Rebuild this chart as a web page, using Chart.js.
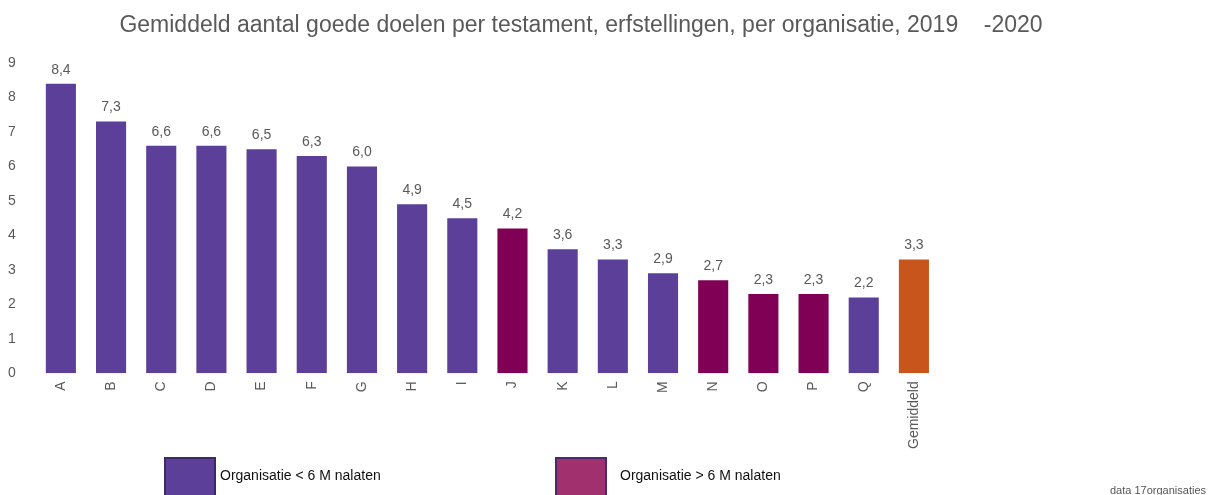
<!DOCTYPE html>
<html>
<head>
<meta charset="utf-8">
<script src="https://cdn.jsdelivr.net/npm/chart.js@4"></script>
<style>
    html, body { margin: 0; padding: 0; background: #fff; }
    #wrap { position: relative; width: 1224px; height: 495px; overflow: hidden; font-family: 'Liberation Sans', Arial, sans-serif; }
    .legend-box { position: absolute; width: 48px; height: 40px; border: 2px solid #3b2a66; }
    .legend-text { position: absolute; font-size: 14px; color: #111; }
    #source { position: absolute; left: 1110px; top: 484px; font-size: 11px; color: #555; }
</style>
</head>
<body>
<div id="wrap">
    <canvas id="goedeDoelenChart" width="1224" height="495"></canvas>
    <div class="legend-box" style="left:164px; top:457px; background:#5b3f99;"></div>
    <div class="legend-text" style="left:220px; top:467px;">Organisatie &lt; 6 M nalaten</div>
    <div class="legend-box" style="left:555px; top:457px; background:#a0306e; border-color:#4b2a6a;"></div>
    <div class="legend-text" style="left:620px; top:467px;">Organisatie &gt; 6 M nalaten</div>
    <div id="source">data 17organisaties</div>
</div>
<script>
const categories = ['A', 'B', 'C', 'D', 'E', 'F', 'G', 'H', 'I', 'J', 'K', 'L', 'M', 'N', 'O', 'P', 'Q', 'Gemiddeld'];
const values = [8.4, 7.3, 6.6, 6.6, 6.5, 6.3, 6.0, 4.9, 4.5, 4.2, 3.6, 3.3, 2.9, 2.7, 2.3, 2.3, 2.2, 3.3];
// groep: 'klein' = < 6 M nalaten, 'groot' = > 6 M nalaten, 'gem' = gemiddelde
const groups = ['klein', 'klein', 'klein', 'klein', 'klein', 'klein', 'klein', 'klein', 'klein', 'groot',
                'klein', 'klein', 'klein', 'groot', 'groot', 'groot', 'klein', 'gem'];
const yTicks = [0, 1, 2, 3, 4, 5, 6, 7, 8, 9];
const titleText = 'Gemiddeld aantal goede doelen per testament, erfstellingen, per organisatie, 2019    -2020';

const groupColors = { klein: '#5b3f99', groot: '#7f0055', gem: '#c8561c' };

document.addEventListener('DOMContentLoaded', () => {
    const ctx = document.getElementById('goedeDoelenChart').getContext('2d');

    // titel en waardelabels zelf tekenen
    const labelPlugin = {
        id: 'valueLabels',
        afterDatasetsDraw(chart) {
            const c = chart.ctx;
            c.save();
            c.font = '14px "Liberation Sans", Arial, sans-serif';
            c.fillStyle = '#595959';
            c.textAlign = 'center';
            c.textBaseline = 'bottom';
            chart.getDatasetMeta(0).data.forEach((bar, i) => {
                c.fillText(values[i].toFixed(1).replace('.', ','), bar.x, bar.y - 7);
            });
            c.font = '23px "Liberation Sans", Arial, sans-serif';
            c.textBaseline = 'middle';
            c.fillText(titleText, 581, 26);
            c.restore();
        }
    };

    new Chart(ctx, {
        type: 'bar',
        data: {
            labels: categories,
            datasets: [{
                data: values,
                backgroundColor: groups.map(g => groupColors[g]),
                categoryPercentage: 1,
                barPercentage: 0.6
            }]
        },
        options: {
            responsive: false,
            animation: false,
            layout: { padding: { top: 63, right: 285, bottom: 38, left: 8 } },
            scales: {
                y: {
                    min: 0,
                    max: 9,
                    afterBuildTicks: (axis) => { axis.ticks = yTicks.map(v => ({ value: v })); },
                    grid: { display: false, drawTicks: false },
                    border: { display: false },
                    ticks: {
                        color: '#595959',
                        font: { size: 14, family: '"Liberation Sans", Arial, sans-serif' },
                        padding: 10,
                        crossAlign: 'far'
                    }
                },
                x: {
                    grid: { display: false, drawTicks: false },
                    border: { display: false },
                    ticks: {
                        color: '#595959',
                        font: { size: 14, family: '"Liberation Sans", Arial, sans-serif' },
                        minRotation: 90,
                        maxRotation: 90,
                        padding: 8
                    }
                }
            },
            plugins: {
                legend: { display: false },
                tooltip: { enabled: false }
            }
        },
        plugins: [labelPlugin]
    });
});
</script>
</body>
</html>
